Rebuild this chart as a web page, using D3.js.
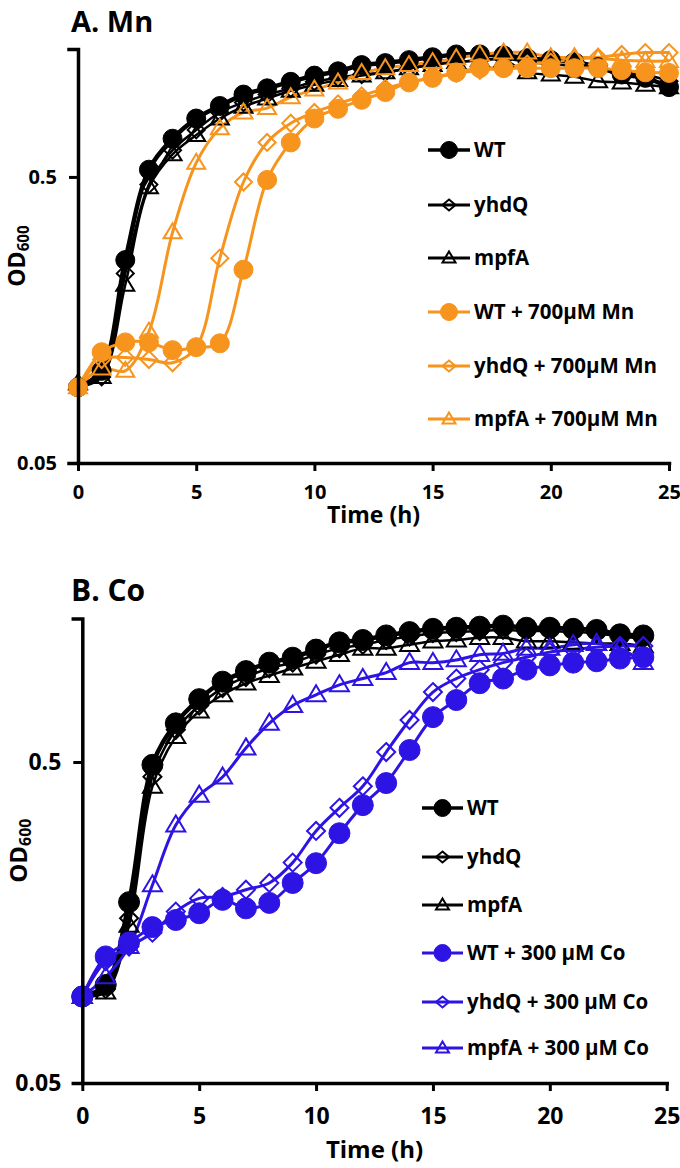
<!DOCTYPE html>
<html><head><meta charset="utf-8">
<script src="https://cdn.jsdelivr.net/npm/d3@7"></script>
<style>
body{margin:0;background:#fff}
svg{display:block}
text{font-family:"Open Sans",sans-serif;font-weight:700;fill:#000}
</style>
</head><body>
<svg id="chart" width="680" height="1168"></svg>
<script>
// ---------- DATA ----------
const timesMn = [0,1,2,3,4,5,6,7,8,9,10,11,12,13,14,15,16,17,18,19,20,21,22,23,24,25];
const mnWT       = [0.092,0.105,0.256,0.53,0.68,0.80,0.885,0.97,1.02,1.075,1.13,1.17,1.23,1.25,1.28,1.31,1.34,1.34,1.33,1.30,1.28,1.26,1.21,1.14,1.11,1.03];
const mnYhdQ     = [0.092,0.100,0.23,0.47,0.62,0.73,0.84,0.91,0.97,1.02,1.075,1.11,1.14,1.16,1.20,1.24,1.26,1.28,1.30,1.26,1.24,1.22,1.20,1.16,1.14,1.08];
const mnMpfA     = [0.095,0.100,0.21,0.46,0.60,0.70,0.80,0.88,0.94,1.00,1.05,1.09,1.13,1.16,1.20,1.23,1.26,1.28,1.28,1.16,1.14,1.12,1.08,1.07,1.05,1.03];
const mnWTMn     = [0.092,0.122,0.132,0.132,0.124,0.127,0.131,0.237,0.488,0.66,0.80,0.865,0.93,0.99,1.07,1.11,1.16,1.20,1.20,1.20,1.20,1.20,1.20,1.18,1.16,1.155];
const mnYhdQMn   = [0.092,0.115,0.117,0.115,0.112,0.127,0.26,0.48,0.66,0.77,0.84,0.90,0.96,1.02,1.07,1.11,1.15,1.18,1.20,1.24,1.26,1.29,1.31,1.34,1.36,1.36];
const mnMpfAMn   = [0.092,0.107,0.105,0.144,0.32,0.56,0.74,0.84,0.87,0.95,1.01,1.07,1.155,1.20,1.23,1.26,1.30,1.34,1.36,1.36,1.31,1.31,1.30,1.28,1.27,1.27];

const timesCo = [0,1,2,3,4,5,6,7,8,9,10,11,12,13,14,15,16,17,18,19,20,21,22,23,24];
const coWT       = [0.093,0.101,0.183,0.49,0.66,0.785,0.89,0.96,1.02,1.057,1.12,1.18,1.20,1.24,1.27,1.30,1.31,1.32,1.33,1.31,1.31,1.30,1.29,1.25,1.24];
const coYhdQ     = [0.093,0.098,0.163,0.45,0.63,0.75,0.85,0.92,0.98,1.02,1.08,1.13,1.16,1.20,1.23,1.26,1.27,1.28,1.29,1.28,1.28,1.27,1.26,1.23,1.21];
const coMpfA     = [0.093,0.096,0.155,0.42,0.60,0.72,0.81,0.88,0.93,0.98,1.03,1.08,1.13,1.13,1.16,1.19,1.20,1.22,1.22,1.19,1.19,1.18,1.17,1.17,1.15];
const coWTCo     = [0.093,0.124,0.137,0.153,0.161,0.169,0.186,0.175,0.182,0.21,0.242,0.30,0.367,0.43,0.545,0.69,0.78,0.88,0.91,0.97,1.00,1.02,1.03,1.05,1.06];
const coYhdQCo   = [0.093,0.120,0.133,0.147,0.171,0.188,0.19,0.20,0.21,0.243,0.305,0.36,0.42,0.537,0.676,0.826,0.91,0.97,1.02,1.06,1.10,1.12,1.14,1.15,1.15];
const coMpfACo   = [0.093,0.107,0.133,0.207,0.318,0.394,0.449,0.553,0.66,0.75,0.81,0.87,0.91,0.95,1.02,1.02,1.04,1.08,1.09,1.13,1.13,1.16,1.17,1.13,1.02];

const legendMn = ["WT","yhdQ","mpfA","WT + 700µM Mn","yhdQ + 700µM Mn","mpfA + 700µM Mn"];
const legendCo = ["WT","yhdQ","mpfA","WT + 300 µM Co","yhdQ + 300 µM Co","mpfA + 300 µM Co"];
const titles = ["A. Mn","B. Co"];
const yMajorTicks = [0.05,0.5];
const yMinorTicks = [0.1,0.15,0.2,0.25,0.3,0.35,0.4,0.45,1.0];
const xTicks = [0,5,10,15,20,25];
const yDomain = [0.05,1.4];
const xDomain = [0,25];

// ---------- STYLES ----------
const BLACK="#000000", ORANGE="#F7941D", BLUE="#2D14E4";
const shapes = ["circle","diamond","triangle","circle","diamond","triangle"];

const svg = d3.select("#chart");

function drawMarker(g, shape, cx, cy, sz, color){
  if(shape==="circle"){
    g.append("circle").attr("cx",cx).attr("cy",cy).attr("r",sz.r)
      .attr("fill",color).attr("stroke",color).attr("stroke-width",1);
  } else if(shape==="diamond"){
    const a=sz.d, b=sz.dy||sz.d;
    g.append("path").attr("d",`M${cx},${cy-b}L${cx+a},${cy}L${cx},${cy+b}L${cx-a},${cy}Z`)
      .attr("fill","none").attr("stroke",color).attr("stroke-width",2);
  } else {
    const w=sz.tw, h=sz.th;
    g.append("path").attr("d",`M${cx},${cy-h*0.6}L${cx+w/2},${cy+h*0.4}L${cx-w/2},${cy+h*0.4}Z`)
      .attr("fill","none").attr("stroke",color).attr("stroke-width",2);
  }
}

function drawPanel(cfg){
  const g = svg.append("g");
  const x = d3.scaleLinear().domain(xDomain).range([cfg.x0,cfg.x1]);
  const y = d3.scaleLog().domain(yDomain).range([cfg.yb,cfg.yt]);

  g.append("text").attr("x",cfg.titleX).attr("y",cfg.titleY).attr("font-size",cfg.titleSize).text(cfg.title);

  const line = d3.line().x((d,i)=>x(cfg.times[i])).y(d=>y(d)).curve(d3.curveCatmullRom.alpha(0.5));
  cfg.series.forEach(s=>{
    g.append("path").datum(s.values).attr("d",line).attr("fill","none")
      .attr("stroke",s.color).attr("stroke-width",s.lw).attr("stroke-linejoin","round");
  });
  cfg.series.forEach(s=>{
    const mg = g.append("g");
    s.values.forEach((v,i)=> drawMarker(mg, s.shape, x(cfg.times[i]), y(v), cfg.msz, s.color));
  });

  const yAxisMinor = d3.axisLeft(y).tickValues(yMinorTicks).tickSize(8).tickFormat("");
  const yAxis = d3.axisLeft(y).tickValues(yMajorTicks).tickSize(9).tickSizeOuter(9)
      .tickFormat(d=>d===0.05?"0.05":"0.5").tickPadding(12);
  const xAxis = d3.axisBottom(x).tickValues(xTicks).tickSize(8).tickSizeOuter(0).tickPadding(cfg.xPad);

  const ga = g.append("g").attr("transform",`translate(${cfg.x0},0)`);
  ga.call(yAxisMinor);
  ga.call(yAxis);
  const gx = g.append("g").attr("transform",`translate(0,${cfg.yb})`).call(xAxis);
  [ga,gx].forEach(a=>{
    a.selectAll("path.domain").attr("stroke","#000").attr("stroke-width",3.5).attr("stroke-linecap","square");
    a.selectAll(".tick line").attr("stroke","#000").attr("stroke-width",3);
    a.selectAll("text").attr("font-family","'Open Sans',sans-serif").attr("font-weight",700)
      .attr("font-size",cfg.tickSize).attr("fill","#000");
  });

  g.append("text").attr("x",(cfg.x0+cfg.x1)/2).attr("y",cfg.xTitleY).attr("text-anchor","middle")
    .attr("font-size",cfg.xTitleSize).text("Time (h)");
  const yl = g.append("text").attr("transform",`translate(${cfg.yTitleX},${(cfg.yt+cfg.yb)/2}) rotate(-90)`)
    .attr("text-anchor","middle").attr("font-size",cfg.yTitleSize);
  yl.append("tspan").text("OD");
  yl.append("tspan").attr("font-size",cfg.yTitleSize*0.66).attr("dy","0.25em").text("600");

  const lg = g.append("g");
  cfg.series.forEach((s,k)=>{
    const ly = cfg.legY[k];
    lg.append("line").attr("x1",cfg.legX0).attr("x2",cfg.legX1).attr("y1",ly).attr("y2",ly)
      .attr("stroke",s.color).attr("stroke-width",k===0?3.5:3);
    drawMarker(lg, s.shape, (cfg.legX0+cfg.legX1)/2, ly, cfg.lmsz, s.color);
    lg.append("text").attr("x",cfg.legX1+4).attr("y",ly).attr("dy","0.36em")
      .attr("font-size",cfg.legSize).text(cfg.labels[k]);
  });
}

const mnVals = [mnWT,mnYhdQ,mnMpfA,mnWTMn,mnYhdQMn,mnMpfAMn];
const coVals = [coWT,coYhdQ,coMpfA,coWTCo,coYhdQCo,coMpfACo];
const mnColors = [BLACK,BLACK,BLACK,ORANGE,ORANGE,ORANGE];
const coColors = [BLACK,BLACK,BLACK,BLUE,BLUE,BLUE];

drawPanel({
  title:titles[0], titleX:71, titleY:32, titleSize:29,
  x0:78, x1:669, yt:49, yb:463, times:timesMn,
  series: mnVals.map((v,k)=>({values:v,color:mnColors[k],shape:shapes[k],lw:k===0?4.5:(k<3?2.5:3)})),
  msz:{r:9.5,d:8.5,tw:18,th:15}, lmsz:{r:8.5,d:6.5,dy:5.5,tw:13,th:11},
  tickSize:20, xPad:14, xTitleY:523, xTitleSize:23, yTitleX:25, yTitleSize:23,
  legX0:428, legX1:470, legY:[150,205,258,312,366,419], legSize:20.5, labels:legendMn
});
drawPanel({
  title:titles[1], titleX:71, titleY:601, titleSize:30,
  x0:82.3, x1:666.7, yt:618.5, yb:1083, times:timesCo,
  series: coVals.map((v,k)=>({values:v,color:coColors[k],shape:shapes[k],lw:k===0?4.5:(k<3?2.5:3)})),
  msz:{r:10.5,d:9,tw:19,th:16}, lmsz:{r:8.5,d:6.5,dy:5.5,tw:13,th:11},
  tickSize:23, xPad:17, xTitleY:1158, xTitleSize:24, yTitleX:27, yTitleSize:24,
  legX0:422, legX1:463, legY:[808,857,905,953,1002,1048], legSize:20.5, labels:legendCo
});
</script>
</body></html>
